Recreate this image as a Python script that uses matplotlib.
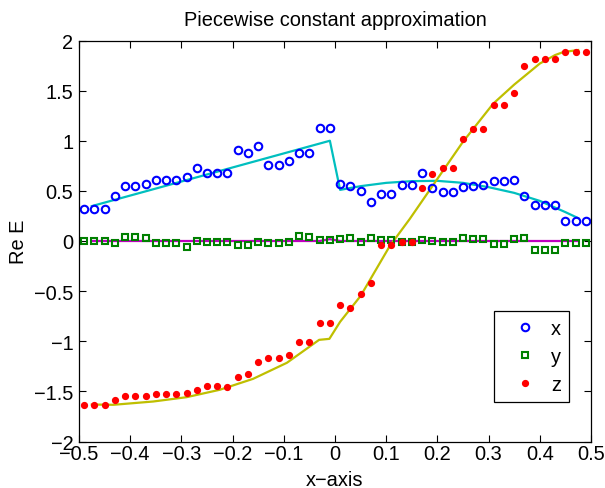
import numpy as np
import matplotlib
matplotlib.use("Agg")
import matplotlib.pyplot as plt

plt.rcParams["font.family"] = ["Liberation Sans", "DejaVu Sans"]
plt.rcParams["font.size"] = 14.4

# sample positions (cell centres)
xs = np.arange(-0.49, 0.50, 0.02)

ex = [0.324, 0.324, 0.324, 0.447, 0.545, 0.545, 0.565, 0.608, 0.608, 0.608,
      0.638, 0.725, 0.678, 0.678, 0.678, 0.903, 0.879, 0.943, 0.755, 0.755,
      0.802, 0.879, 0.879, 1.131, 1.131,
      0.571, 0.551, 0.497, 0.394, 0.467, 0.467, 0.554, 0.554, 0.678, 0.528,
      0.484, 0.484, 0.534, 0.551, 0.554, 0.601, 0.601, 0.604, 0.447, 0.357,
      0.357, 0.357, 0.199, 0.199, 0.199]

ey = [0.0, 0.0, 0.0, -0.015, 0.042, 0.042, 0.028, -0.022, -0.022, -0.022,
      -0.059, 0.002, -0.01, -0.01, -0.01, -0.039, -0.039, -0.01, -0.022, -0.022,
      -0.01, 0.049, 0.042, 0.008, 0.008,
      0.022, 0.028, -0.01, 0.028, 0.008, 0.008, -0.01, -0.01, 0.008, 0.0,
      -0.01, -0.01, 0.028, 0.015, 0.015, -0.025, -0.025, 0.022, 0.028, -0.085,
      -0.085, -0.085, -0.015, -0.015, -0.015]

ez = [-1.636, -1.636, -1.636, -1.583, -1.543, -1.543, -1.543, -1.530, -1.530, -1.530,
      -1.513, -1.482, -1.449, -1.449, -1.452, -1.358, -1.322, -1.204, -1.168, -1.168,
      -1.134, -1.003, -1.010, -0.816, -0.816,
      -0.635, -0.665, -0.531, -0.414, -0.040, -0.036, -0.005, -0.005, 0.531, 0.668,
      0.725, 0.725, 1.017, 1.121, 1.121, 1.358, 1.358, 1.472, 1.750, 1.811,
      1.811, 1.811, 1.884, 1.884, 1.884]

# reference solution
cx_t = [-0.475, -0.01, 0.01, 0.05, 0.10, 0.15, 0.20, 0.25, 0.30, 0.35, 0.40, 0.45, 0.475]
cx_v = [0.348, 1.0, 0.51, 0.547, 0.58, 0.597, 0.60, 0.58, 0.537, 0.48, 0.40, 0.288, 0.228]

cy_t = [-0.475, -0.03, -0.01, 0.01, 0.475]
cy_v = [0.0, 0.0, 0.018, 0.0, 0.0]

cz_t = [-0.475, -0.433, -0.355, -0.29, -0.225, -0.16, -0.094, -0.031, -0.011,
        0.01, 0.05, 0.107, 0.146, 0.20, 0.25, 0.309, 0.35, 0.381, 0.40, 0.43, 0.446, 0.475]
cz_v = [-1.631, -1.634, -1.601, -1.558, -1.484, -1.375, -1.215, -0.986, -0.976,
        -0.806, -0.548, -0.05, 0.22, 0.62, 0.99, 1.37, 1.56, 1.69, 1.77, 1.855, 1.885, 1.905]

fig = plt.figure(figsize=(6.05, 4.89), dpi=100)
ax = fig.add_axes([79 / 605, 1 - 442.5 / 489, 512 / 605, 401 / 489])

ax.plot(cx_t, cx_v, color=(0, 0.75, 0.75), lw=1.6)
ax.plot(cy_t, cy_v, color=(0.75, 0, 0.75), lw=1.6)
ax.plot(cz_t, cz_v, color=(0.75, 0.75, 0), lw=1.6)

ax.plot(xs, ex, "o", ls="none", mfc="none", mec=(0, 0, 1), mew=1.5, ms=5.4, label="x")
ax.plot(xs, ey, "s", ls="none", mfc="none", mec=(0, 0.5, 0), mew=1.5, ms=4.2, label="y")
ax.plot(xs, ez, "o", ls="none", mfc=(1, 0, 0), mec=(1, 0, 0), ms=4.2, label="z")

ax.set_xlim(-0.5, 0.5)
ax.set_ylim(-2, 2)
ax.set_xticks(np.arange(-0.5, 0.51, 0.1))
ax.set_yticks(np.arange(-2, 2.01, 0.5))
ax.set_xticklabels(["\u22120.5", "\u22120.4", "\u22120.3", "\u22120.2", "\u22120.1", "0",
                    "0.1", "0.2", "0.3", "0.4", "0.5"])
ax.set_yticklabels(["\u22122", "\u22121.5", "\u22121", "\u22120.5", "0", "0.5", "1", "1.5", "2"])
ax.tick_params(direction="in", top=True, right=True, length=5, width=0.8)
ax.tick_params(axis="x", pad=2)
ax.tick_params(axis="y", pad=4)
for s in ax.spines.values():
    s.set_linewidth(0.9)

ax.set_title("Piecewise constant approximation", fontsize=14.4, pad=11.5)
ax.set_xlabel("x\u2212axis")
ax.xaxis.label.set_va("center")
ax.xaxis.set_label_coords(0.5, -0.095)
ax.set_ylabel("Re E")
ax.yaxis.label.set_va("center")
ax.yaxis.set_label_coords(-0.118, 0.5)

leg = ax.legend(loc="upper left", bbox_to_anchor=((494 - 79) / 512, (442.5 - 312) / 401),
                fancybox=False, framealpha=1, edgecolor="black", borderpad=0.4,
                handlelength=2.3, handletextpad=0.15, labelspacing=0.45,
                borderaxespad=0)
leg.get_frame().set_linewidth(0.9)

fig.savefig("out.png", dpi=100)
